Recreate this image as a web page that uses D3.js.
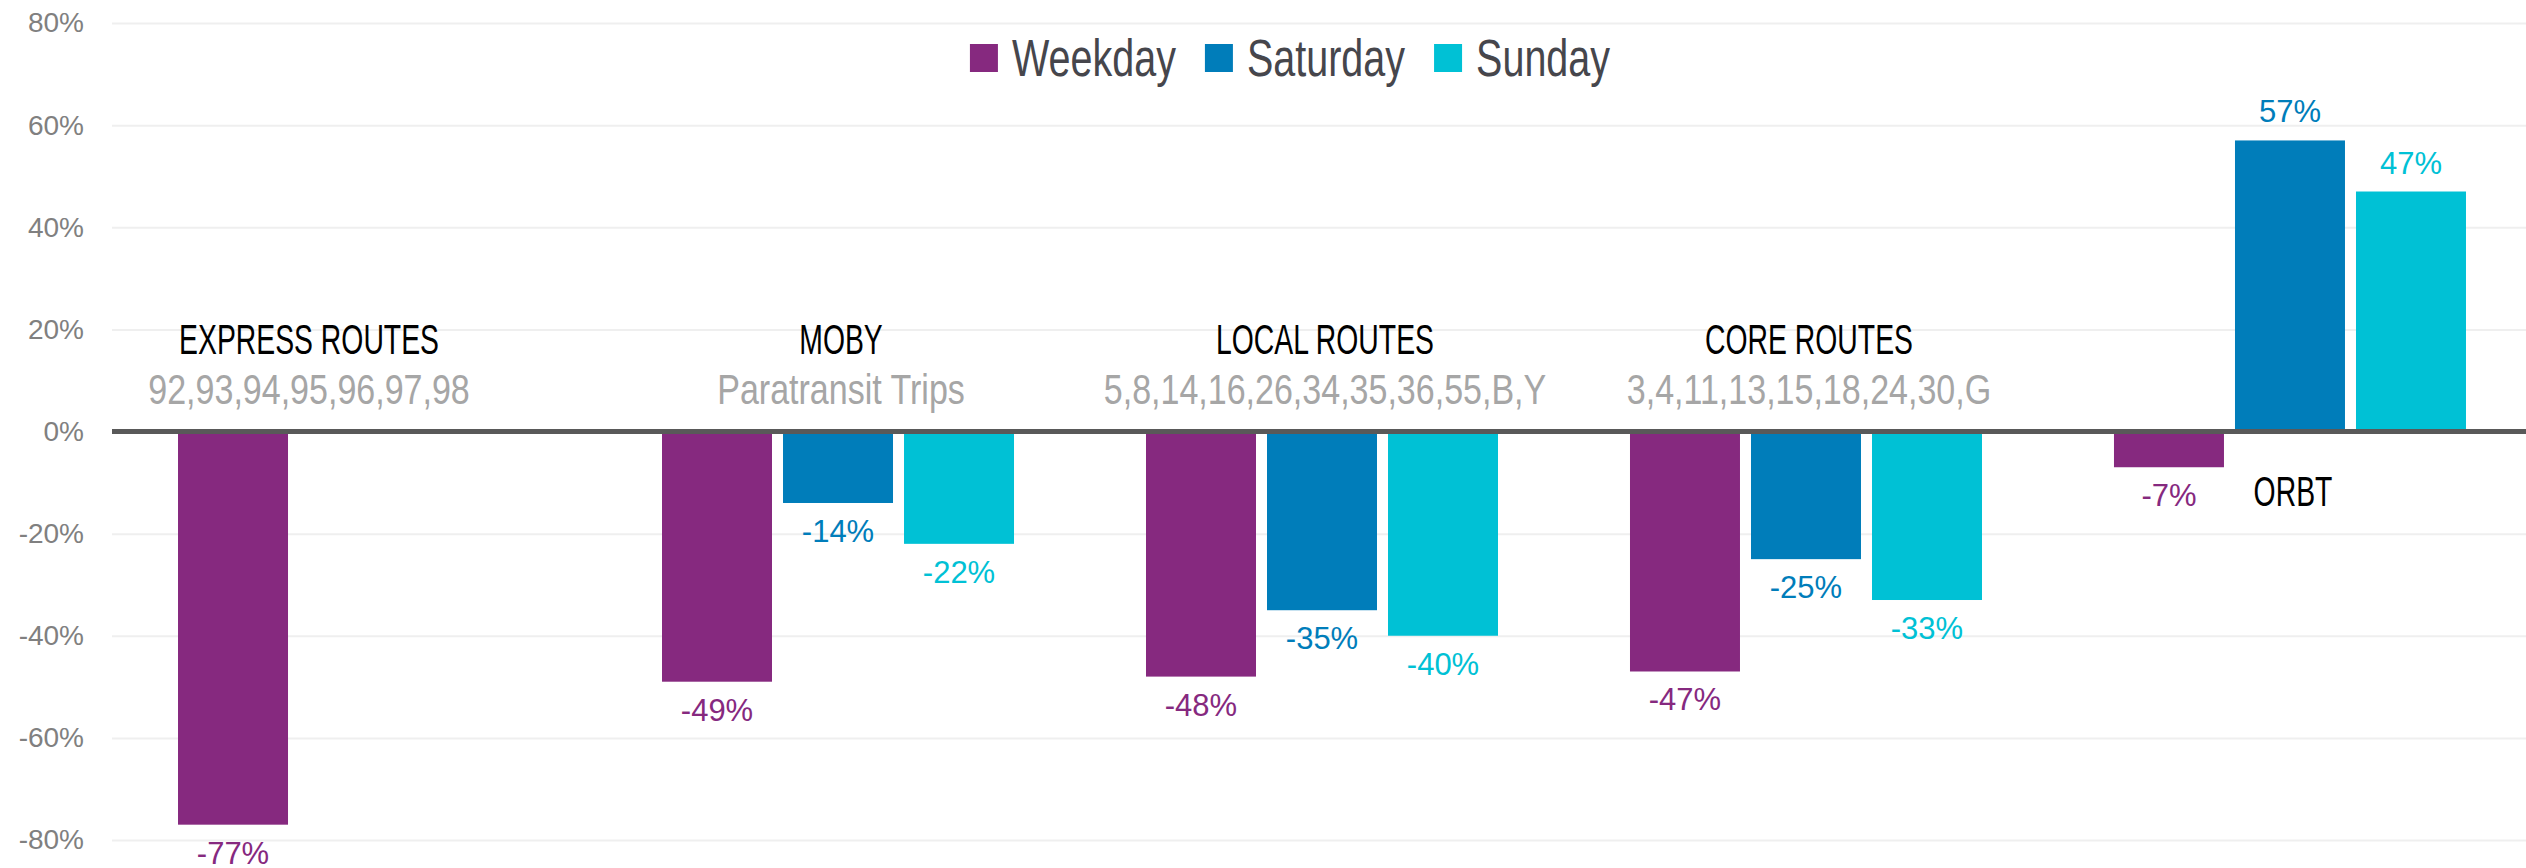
<!DOCTYPE html>
<html>
<head>
<meta charset="utf-8">
<script src="https://cdn.jsdelivr.net/npm/d3@7"></script>
<style>
  body { margin: 0; background: #fff; }
  svg { display: block; }
</style>
</head>
<body>
<svg></svg>
<script>
// ridership change by route type
const categories = ["EXPRESS ROUTES", "MOBY", "LOCAL ROUTES", "CORE ROUTES", "ORBT"];
const subtitles = ["92,93,94,95,96,97,98", "Paratransit Trips", "5,8,14,16,26,34,35,36,55,B,Y", "3,4,11,13,15,18,24,30,G", ""];
const seriesNames = ["Weekday", "Saturday", "Sunday"];
const weekday = [-77, -49, -48, -47, -7];
const saturday = [null, -14, -35, -25, 57];
const sunday = [null, -22, -40, -33, 47];
const yTicks = [-80, -60, -40, -20, 0, 20, 40, 60, 80];
const colors = ["#86297f", "#007dba", "#00c1d5"];

const values = [weekday, saturday, sunday];
const rows = [];
categories.forEach((c, i) => {
    seriesNames.forEach((s, j) => {
        if (values[j][i] != null) rows.push({ cat: c, series: s, value: values[j][i], color: colors[j] });
    });
});

const width = 2526,
      height = 868,
      left = 112;

const x0 = d3.scaleBand()
      .domain(categories)
      .range([left, left + 2420])
      .paddingInner(0.2727)
      .paddingOuter(0.1364);

const x1 = d3.scaleBand()
      .domain(seriesNames)
      .range([0, x0.bandwidth()])
      .paddingInner(0.091);

const y = d3.scaleLinear()
      .domain([-80, 80])
      .range([840, 23]);

const svg = d3.select("svg")
      .attr("width", width)
      .attr("height", height)
      .attr("viewBox", [0, 0, width, height]);

const sans = "'Liberation Sans', Arial, sans-serif";

// grid + tick labels
const yAx = svg.append("g")
      .attr("transform", `translate(${left},0)`)
      .call(d3.axisLeft(y).tickValues(yTicks).tickSize(-(width - left)).tickPadding(28).tickFormat(d => d + "%"));
yAx.select(".domain").remove();
yAx.selectAll(".tick line").attr("stroke", "#efefef").attr("stroke-width", 2);
yAx.selectAll(".tick text")
    .attr("fill", "#808080")
    .style("font-family", sans)
    .style("font-size", "28px");

// bars
svg.append("g")
    .selectAll("rect")
    .data(rows)
    .join("rect")
    .attr("x", d => x0(d.cat) + x1(d.series))
    .attr("y", d => y(Math.max(0, d.value)))
    .attr("width", x1.bandwidth())
    .attr("height", d => Math.abs(y(d.value) - y(0)))
    .attr("fill", d => d.color);

// value labels
svg.append("g")
    .selectAll("text")
    .data(rows)
    .join("text")
    .attr("x", d => x0(d.cat) + x1(d.series) + x1.bandwidth() / 2)
    .attr("y", d => d.value < 0 ? y(d.value) + 39 : y(d.value) - 18)
    .attr("text-anchor", "middle")
    .attr("fill", d => d.color)
    .style("font-family", sans)
    .style("font-size", "31px")
    .text(d => d.value + "%");

// zero line
svg.append("line")
    .attr("x1", left)
    .attr("x2", width)
    .attr("y1", y(0))
    .attr("y2", y(0))
    .attr("stroke", "#595959")
    .attr("stroke-width", 5);

// category labels (condensed look via horizontal squeeze)
const nudge = { "EXPRESS ROUTES": -45 };
const cx = c => x0(c) + x0.bandwidth() / 2 + (nudge[c] || 3);

svg.append("g")
    .selectAll("text")
    .data(categories)
    .join("text")
    .attr("transform", c => `translate(${cx(c)},${c === "ORBT" ? y(0) + 74 : y(0) - 78}) scale(0.675,1)`)
    .attr("text-anchor", "middle")
    .attr("fill", "#000")
    .style("font-family", sans)
    .style("font-size", "42px")
    .text(c => c);

svg.append("g")
    .selectAll("text")
    .data(categories.map((c, i) => ({ c, t: subtitles[i] })).filter(d => d.t))
    .join("text")
    .attr("transform", d => `translate(${cx(d.c)},${y(0) - 28}) scale(0.81,1)`)
    .attr("text-anchor", "middle")
    .attr("fill", "#a6a6a6")
    .style("font-family", sans)
    .style("font-size", "42px")
    .text(d => d.t);

// legend
const legend = svg.append("g");
const sx = 0.76;
let lx = 0;
seriesNames.forEach((s, i) => {
    legend.append("rect")
        .attr("x", lx).attr("y", 44)
        .attr("width", 28).attr("height", 28)
        .attr("fill", colors[i]);
    const t = legend.append("text")
        .attr("transform", `translate(${lx + 42},76) scale(${sx},1)`)
        .attr("fill", "#46464c")
        .style("font-family", sans)
        .style("font-size", "52px")
        .text(s);
    lx += 42 + t.node().getComputedTextLength() * sx + 29;
});
lx -= 29;
legend.attr("transform", `translate(${1290 - lx / 2},0)`);
</script>
</body>
</html>
